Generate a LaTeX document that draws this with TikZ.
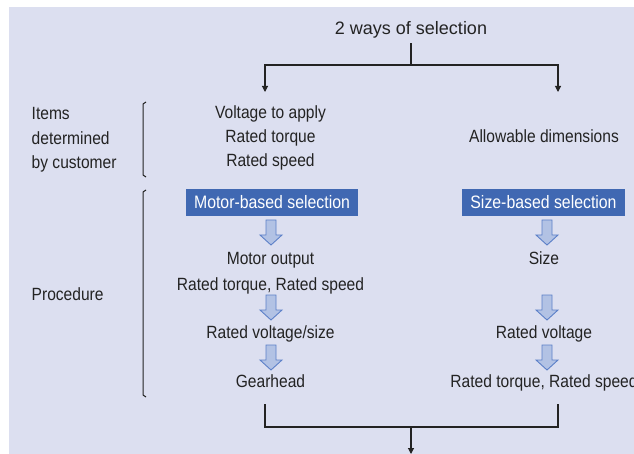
\documentclass[tikz,border=0pt]{standalone}
\usepackage{fontspec}
\setmainfont{Liberation Sans}[FakeStretch=0.88]
\newfontfamily\widefont{Liberation Sans}
\usetikzlibrary{arrows.meta}

\definecolor{bgpanel}{RGB}{220,223,240}
\definecolor{boxblue}{RGB}{64,104,178}
\definecolor{arrowfill}{RGB}{178,194,228}
\definecolor{arrowedge}{RGB}{92,128,200}
\definecolor{inkgray}{RGB}{35,35,35}

\tikzset{
  txt/.style={text=inkgray,font=\fontsize{17.7}{20}\selectfont,inner sep=0pt,anchor=base},
  selbox/.style={fill=boxblue,text=white,font=\fontsize{18}{20}\selectfont,inner xsep=8.5pt,minimum height=27pt},
  wire/.style={draw=inkgray,line width=1.1pt},
  bracket/.style={draw=inkgray,line width=1pt},
  pics/hollowdown/.style={code={
    \draw[arrowedge,fill=arrowfill,line width=0.9pt]
      (-5,0) -- (-5,15) -- (-11,15) -- (0,25) -- (11,15) -- (5,15) -- (5,0) -- cycle;}},
}

\begin{document}
\begin{tikzpicture}[x=1pt,y=-1pt,>={Triangle[length=6pt,width=6pt]}]
  \useasboundingbox (0,0) rectangle (634,454);
  % panel
  \fill[bgpanel] (9,7) rectangle (634,454);
  % title and split
  \node[txt,font=\widefont\fontsize{18}{20}\selectfont,inner ysep=4.7pt] (title) at (411,34.5) {2 ways of selection};
  \coordinate (split) at (411,65);
  \coordinate (lhead) at (265,92);
  \coordinate (rhead) at (558,92);
  \draw[wire] (title.south) -- (split);
  \draw[wire,->] (split) -| (lhead);
  \draw[wire,->] (split) -| (rhead);
  % items determined by customer
  \node[txt,anchor=base west] (items) at (31.5,119.5) {Items};
  \node[txt,anchor=base west] (determ) at (31.5,144.5) {determined};
  \node[txt,anchor=base west] (bycust) at (31.5,168.5) {by customer};
  \draw[bracket] (146,102) -- (143,104) -- (143,175) -- (146,177);
  \node[txt] (volt) at (270.5,118.5) {Voltage to apply};
  \node[txt] (torq) at (270.5,142.5) {Rated torque};
  \node[txt] (speed) at (270.5,166.5) {Rated speed};
  \node[txt] (dims) at (544,142.5) {Allowable dimensions};
  % procedure
  \node[txt,anchor=base west] (proc) at (31.5,300.5) {Procedure};
  \draw[bracket] (146,190) -- (143,192) -- (143,395) -- (146,397);
  % motor-based column
  \node[selbox] (mbox) at (272,202.5) {Motor-based selection};
  \pic at (271,220) {hollowdown};
  \node[txt] (mout) at (270.5,264.5) {Motor output};
  \node[txt] (mtorq) at (270.5,290) {Rated torque, Rated speed};
  \pic at (271,295) {hollowdown};
  \node[txt] (mvolt) at (270.5,338.5) {Rated voltage/size};
  \pic at (271,345) {hollowdown};
  \node[txt] (gear) at (270.5,387.5) {Gearhead};
  % size-based column
  \node[selbox] (sbox) at (543.5,202.5) {Size-based selection};
  \pic at (547,220) {hollowdown};
  \node[txt] (size) at (544,264.5) {Size};
  \pic at (547,295) {hollowdown};
  \node[txt] (svolt) at (544,338.5) {Rated voltage};
  \pic at (547,345) {hollowdown};
  \node[txt] (storq) at (544,387.5) {Rated torque, Rated speed};
  % join
  \coordinate (lfoot) at (265,404);
  \coordinate (rfoot) at (558,404);
  \coordinate (join) at (411,427);
  \coordinate (exit) at (411,454);
  \draw[wire] (lfoot) |- (join);
  \draw[wire] (rfoot) |- (join);
  \draw[wire,->] (join) -- (exit);
\end{tikzpicture}
\end{document}
